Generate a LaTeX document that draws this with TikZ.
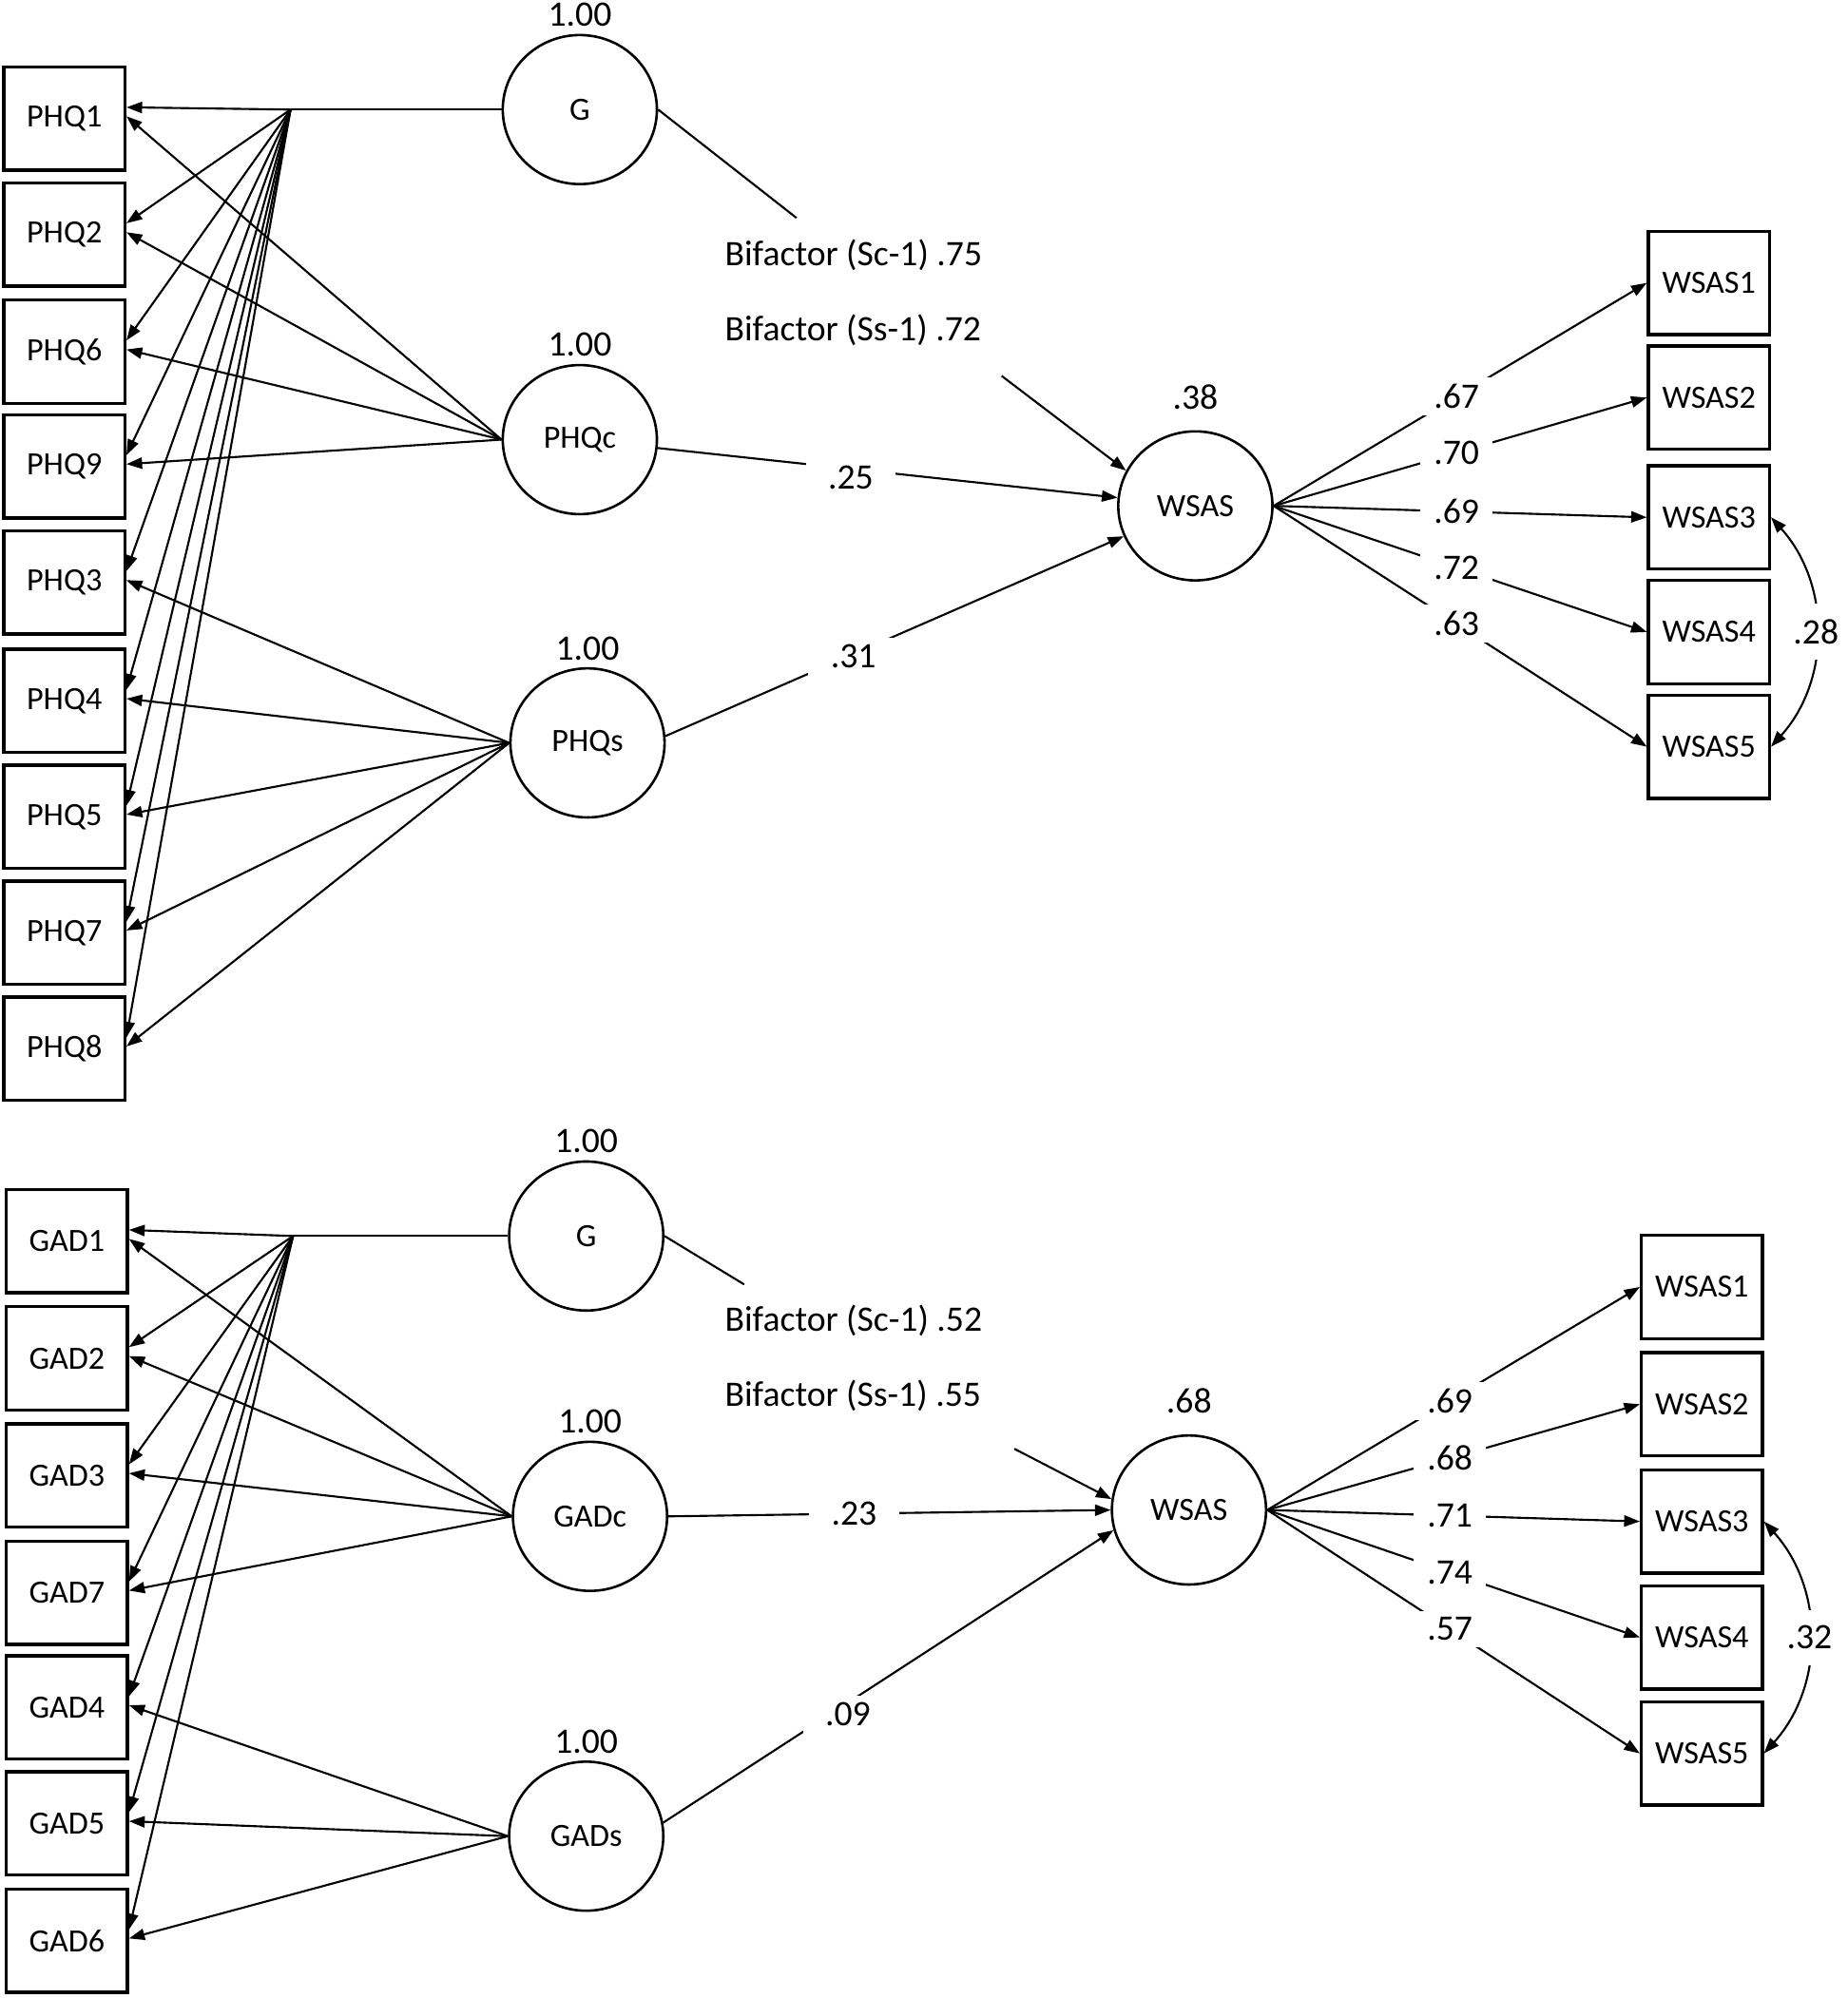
\documentclass[tikz,border=0pt]{standalone}
\usepackage{fontspec}
\setmainfont{Carlito}
\usetikzlibrary{arrows.meta,shapes.geometric,positioning}

\begin{document}
\begin{tikzpicture}[x=0.02cm, y=-0.02cm,
  obs/.style={draw, line width=1.4pt, minimum width=1.9cm, minimum height=1.62cm,
    inner sep=0pt, font=\fontsize{14.5}{17}\selectfont},
  lat/.style={draw, ellipse, line width=1.1pt, minimum width=2.42cm, minimum height=2.34cm,
    inner sep=0pt, font=\fontsize{14.5}{17}\selectfont},
  num/.style={inner sep=2pt, font=\fontsize{16}{19}\selectfont},
  coef/.style={num, fill=white, inner xsep=6pt, inner ysep=3pt},
  reg/.style={num, fill=white, inner xsep=10pt, inner ysep=3pt},
  ln/.style={line width=0.9pt},
  arr/.style={line width=0.9pt, -{Triangle[length=7pt,width=5pt]}},
  cov/.style={line width=0.9pt, {Triangle[length=7pt,width=5pt]}-{Triangle[length=7pt,width=5pt]}}]
  \useasboundingbox (0,0) rectangle (1450,1568);

  % PHQ model
  \foreach \n/\y in {PHQ1/93,PHQ2/184,PHQ6/276,PHQ9/366,PHQ3/457,PHQ4/550,PHQ5/641,PHQ7/732,PHQ8/823}
    \node[obs] (\n) at (50.5,\y) {\n};
  \foreach \i/\y in {1/222,2/312,3/406,4/496,5/586}
    \node[obs] (Wa\i) at (1341,\y) {WSAS\i};

  \node[lat] (G1) at (455,86) {G};
  \node[lat] (PHQc) at (455,345) {PHQc};
  \node[lat] (PHQs) at (461,583) {PHQs};
  \node[lat] (WSASa) at (938,397) {WSAS};
  \node[num, above=1pt of G1] (vG1) {1.00};
  \node[num, above=1pt of PHQc] (vPHQc) {1.00};
  \node[num, above=1pt of PHQs] (vPHQs) {1.00};
  \node[num, above=7pt of WSASa] (rWSASa) {.38};

  \node[num, anchor=west] (bca) at (565,200) {Bifactor (Sc-1) .75};
  \node[num, anchor=west] (bsa) at (565,259) {Bifactor (Ss-1) .72};
  \coordinate (gEnd1) at (625,171);
  \coordinate (bStart1) at (786,295);
  \coordinate (jG1) at (228,86);

  \draw[ln] (G1.west) -- (jG1);
  \foreach \n in {PHQ1,PHQ2,PHQ6,PHQ9,PHQ3,PHQ4,PHQ5,PHQ7,PHQ8}
    \draw[arr] (jG1) -- ([yshift=5pt]\n.east);
  \foreach \n in {PHQ1,PHQ2,PHQ6,PHQ9}
    \draw[arr] (PHQc.west) -- ([yshift=1pt]\n.east);
  \foreach \n in {PHQ3,PHQ4,PHQ5,PHQ7,PHQ8}
    \draw[arr] (PHQs.west) -- ([yshift=1pt]\n.east);

  \draw[ln] (G1.east) -- (gEnd1);
  \draw[arr] (bStart1) -- (WSASa.153);
  \draw[arr] (PHQc) -- node[reg, pos=0.42, yshift=-4pt] (ra1) {.25} (WSASa.174);
  \draw[arr] (PHQs.5) -- node[reg, pos=0.41, yshift=-1pt] (ra2) {.31} (WSASa.203);

  \foreach \i/\v in {1/.67,2/.70,3/.69,4/.72,5/.63}
    \draw[arr] (WSASa.east) -- node[coef, pos=0.49] (la\i) {\v} (Wa\i.west);
  \draw[cov] (Wa3.east) to[bend left=42] node[num, fill=white, inner ysep=7pt] (ca) {.28} (Wa5.east);

  % GAD model
  \foreach \n/\y in {GAD1/974,GAD2/1066,GAD3/1158,GAD7/1250,GAD4/1340,GAD5/1431,GAD6/1523}
    \node[obs] (\n) at (52.5,\y) {\n};
  \foreach \i/\y in {1/1010,2/1102,3/1194,4/1285,5/1376}
    \node[obs] (Wb\i) at (1335.5,\y) {WSAS\i};

  \node[lat] (G2) at (460,970) {G};
  \node[lat] (GADc) at (463,1190) {GADc};
  \node[lat] (GADs) at (460,1441) {GADs};
  \node[lat] (WSASb) at (933,1185) {WSAS};
  \node[num, above=1pt of G2] (vG2) {1.00};
  \node[num, above=1pt of GADc] (vGADc) {1.00};
  \node[num, above=1pt of GADs] (vGADs) {1.00};
  \node[num, above=7pt of WSASb] (rWSASb) {.68};

  \node[num, anchor=west] (bcb) at (565,1036) {Bifactor (Sc-1) .52};
  \node[num, anchor=west] (bsb) at (565,1095) {Bifactor (Ss-1) .55};
  \coordinate (gEnd2) at (584,1008);
  \coordinate (bStart2) at (796,1137);
  \coordinate (jG2) at (230,970);

  \draw[ln] (G2.west) -- (jG2);
  \foreach \n in {GAD1,GAD2,GAD3,GAD7,GAD4,GAD5,GAD6}
    \draw[arr] (jG2) -- ([yshift=5pt]\n.east);
  \foreach \n in {GAD1,GAD2,GAD3,GAD7}
    \draw[arr] (GADc.west) -- ([yshift=1pt]\n.east);
  \foreach \n in {GAD4,GAD5,GAD6}
    \draw[arr] (GADs.west) -- ([yshift=1pt]\n.east);

  \draw[ln] (G2.east) -- (gEnd2);
  \draw[arr] (bStart2) -- (WSASb.172);
  \draw[arr] (GADc.east) -- node[reg, pos=0.42] (rb1) {.23} (WSASb.180);
  \draw[arr] (GADs.10) -- node[reg, pos=0.41, yshift=-5pt] (rb2) {.09} (WSASb.195);

  \foreach \i/\v in {1/.69,2/.68,3/.71,4/.74,5/.57}
    \draw[arr] (WSASb.east) -- node[coef, pos=0.49] (lb\i) {\v} (Wb\i.west);
  \draw[cov] (Wb3.east) to[bend left=42] node[num, fill=white, inner ysep=7pt] (cb) {.32} (Wb5.east);
\end{tikzpicture}
\end{document}
